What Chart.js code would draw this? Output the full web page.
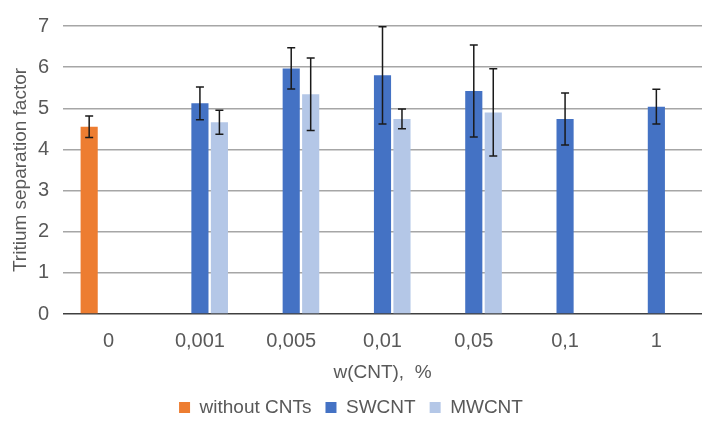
<!DOCTYPE html>
<html>
<head>
<meta charset="utf-8">
<script src="https://cdn.jsdelivr.net/npm/chart.js@4"></script>
<style>
  html, body { margin: 0; padding: 0; background: #fff; }
  #wrap { width: 702px; height: 434px; }
</style>
</head>
<body>
<div id="wrap"><canvas id="cntChart"></canvas></div>
<script>
// Categories: mass fraction of CNT, %
const categories = ["0", "0,001", "0,005", "0,01", "0,05", "0,1", "1"];

// Series values
const withoutCnt = [4.55, null, null, null, null, null, null];
const swcnt = [null, 5.12, 5.97, 5.80, 5.42, 4.74, 5.04];
const mwcnt = [null, 4.66, 5.34, 4.74, 4.90, null, null];

// Error bar half-widths
const withoutCntErr = [0.26, null, null, null, null, null, null];
const swcntErr = [null, 0.40, 0.50, 1.18, 1.12, 0.63, 0.42];
const mwcntErr = [null, 0.29, 0.88, 0.24, 1.06, null, null];

const yTicks = [0, 1, 2, 3, 4, 5, 6, 7];

const FONT = "'Liberation Sans', Arial, sans-serif";
const TEXT_COLOR = "#595959";

// Draws symmetric error bars on top of each bar
const errorBarPlugin = {
  id: "errorBars",
  afterDatasetsDraw(chart) {
    const ctx = chart.ctx;
    const yScale = chart.scales.y;
    ctx.save();
    ctx.strokeStyle = "#1a1a1a";
    ctx.lineWidth = 1.5;
    chart.data.datasets.forEach((ds, di) => {
      const meta = chart.getDatasetMeta(di);
      meta.data.forEach((bar, i) => {
        const v = ds.data[i];
        const e = ds.errors[i];
        if (v == null || e == null) return;
        const yTop = yScale.getPixelForValue(v + e);
        const yBot = yScale.getPixelForValue(v - e);
        const cap = 4;
        ctx.beginPath();
        ctx.moveTo(bar.x, yTop);
        ctx.lineTo(bar.x, yBot);
        ctx.moveTo(bar.x - cap, yTop);
        ctx.lineTo(bar.x + cap, yTop);
        ctx.moveTo(bar.x - cap, yBot);
        ctx.lineTo(bar.x + cap, yBot);
        ctx.stroke();
      });
    });
    ctx.restore();
  },
};

new Chart(document.getElementById("cntChart"), {
  type: "bar",
  data: {
    labels: categories,
    datasets: [
      {
        label: "without CNTs",
        data: withoutCnt,
        errors: withoutCntErr,
        backgroundColor: "#ED7D31",
      },
      {
        label: "SWCNT",
        data: swcnt,
        errors: swcntErr,
        backgroundColor: "#4472C4",
      },
      {
        label: "MWCNT",
        data: mwcnt,
        errors: mwcntErr,
        backgroundColor: "#B4C7E7",
      },
    ],
  },
  options: {
    responsive: true,
    maintainAspectRatio: false,
    animation: false,
    layout: { padding: { top: 9, right: 0, left: 0, bottom: 7 } },
    datasets: {
      bar: { categoryPercentage: 0.64, barPercentage: 0.88 },
    },
    scales: {
      x: {
        afterFit: (scale) => {
          scale.height = 70;
        },
        grid: { display: false },
        border: { display: false },
        ticks: {
          color: TEXT_COLOR,
          font: { family: FONT, size: 20 },
          padding: 7,
          maxRotation: 0,
        },
        title: {
          display: true,
          text: "w(CNT),  %",
          color: TEXT_COLOR,
          font: { family: FONT, size: 19 },
          padding: { top: 0, bottom: 0 },
        },
      },
      y: {
        min: 0,
        max: 7,
        afterBuildTicks: (scale) => {
          scale.ticks = yTicks.map((v) => ({ value: v }));
        },
        afterFit: (scale) => {
          scale.width = 63;
        },
        grid: {
          color: (c) => (c.tick && c.tick.value === 0 ? "#404040" : "#a6a6a6"),
          lineWidth: 1.5,
          drawTicks: false,
        },
        border: { display: false },
        ticks: {
          color: TEXT_COLOR,
          font: { family: FONT, size: 20 },
          padding: 14,
        },
        title: {
          display: true,
          text: "Tritium separation factor",
          color: TEXT_COLOR,
          font: { family: FONT, size: 19 },
          padding: { top: 9, bottom: 0 },
        },
      },
    },
    plugins: {
      legend: {
        position: "bottom",
        labels: {
          color: TEXT_COLOR,
          font: { family: FONT, size: 19 },
          boxWidth: 11,
          boxHeight: 11,
          padding: 14,
        },
      },
      tooltip: { enabled: false },
    },
  },
  plugins: [errorBarPlugin],
});
</script>
</body>
</html>
